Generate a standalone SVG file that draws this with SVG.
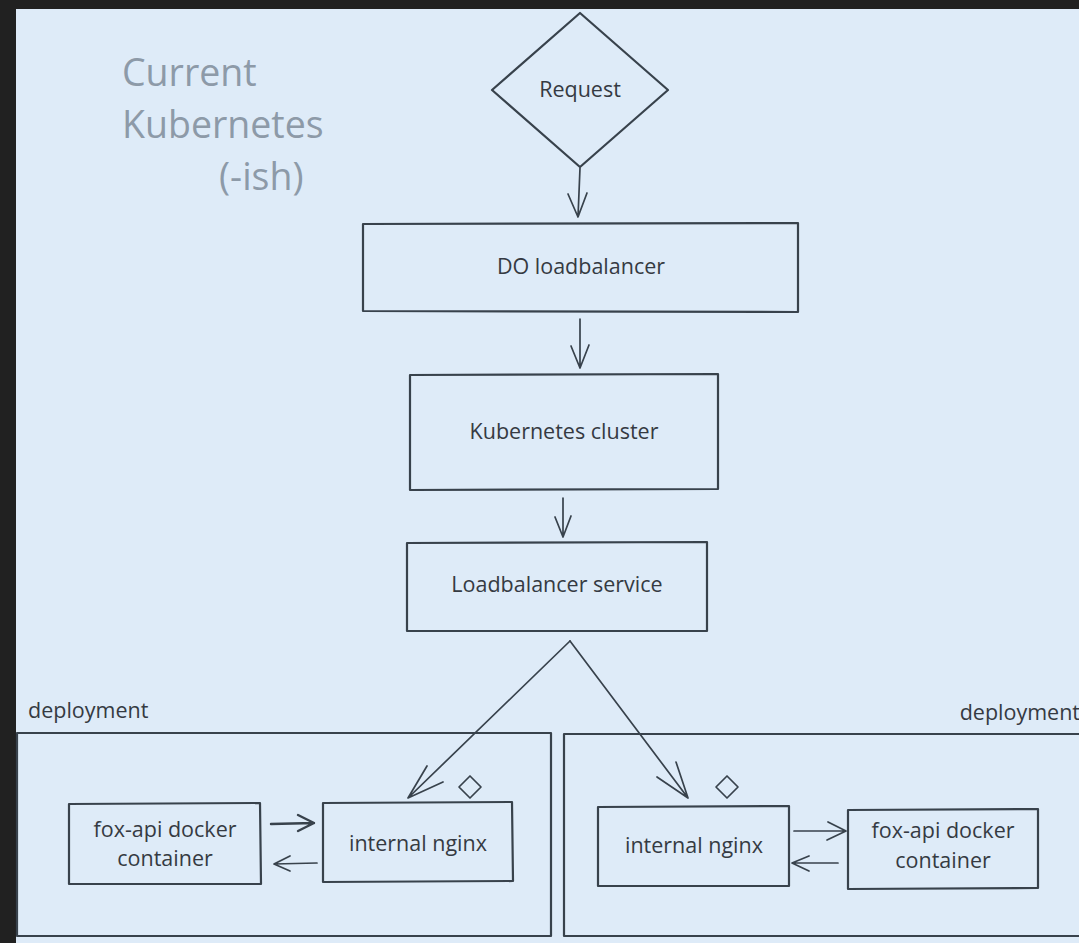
<svg xmlns="http://www.w3.org/2000/svg" width="1079" height="943" viewBox="0 0 1079 943">
  <style>
    .shape { fill: none; stroke: #38424c; stroke-width: 2.2; stroke-linecap: round; stroke-linejoin: round; }
    .conn { fill: none; stroke: #38424c; stroke-width: 1.7; stroke-linecap: round; stroke-linejoin: round; }
    .lbl { font-family: "Open Sans", "Noto Sans", "Liberation Sans", sans-serif; font-size: 21.5px; fill: #353a42; text-anchor: middle; }
    .title { font-family: "Open Sans", "Noto Sans", "Liberation Sans", sans-serif; font-size: 37.5px; fill: #8d9aa8; }
  </style>
  <rect x="0" y="0" width="1079" height="943" fill="#212121"/>
  <rect x="16" y="9" width="1063" height="934" fill="#deebf8"/>

  <g id="title">
    <text class="title" x="122" y="86">Current</text>
    <text class="title" x="122" y="138">Kubernetes</text>
    <text class="title" x="219" y="190">(-ish)</text>
  </g>

  <g id="request">
    <path class="shape" d="M580,13 L668,90 L580,167 L492,90 Z"/>
    <text class="lbl" x="580" y="97">Request</text>
  </g>

  <g id="do-loadbalancer">
    <path class="shape" d="M363,224 L798,223 L798,312 L363,311 Z"/>
    <text class="lbl" x="581" y="274">DO loadbalancer</text>
  </g>

  <g id="kubernetes-cluster">
    <path class="shape" d="M410,375 L718,374 L718,489 L410,490 Z"/>
    <text class="lbl" x="564" y="439">Kubernetes cluster</text>
  </g>

  <g id="loadbalancer-service">
    <path class="shape" d="M407,543 L707,542 L707,631 L407,631 Z"/>
    <text class="lbl" x="557" y="592">Loadbalancer service</text>
  </g>

  <g id="deployment-left">
    <path class="shape" d="M17,733 L551,733 L551,936 L17,936 Z"/>
    <text class="lbl" x="28" y="718" style="text-anchor:start">deployment</text>
  </g>

  <g id="deployment-right">
    <path class="shape" d="M1085,734 L564,734 L564,936 L1085,936"/>
    <text class="lbl" x="1080" y="720" style="text-anchor:end">deployment</text>
  </g>

  <g id="fox-api-left">
    <path class="shape" d="M69,804 L260,803 L261,884 L69,884 Z"/>
    <text class="lbl" x="165" y="837">fox-api docker</text>
    <text class="lbl" x="165" y="866">container</text>
  </g>

  <g id="nginx-left">
    <path class="shape" d="M323,803 L512,802 L513,881 L323,882 Z"/>
    <text class="lbl" x="418" y="851">internal nginx</text>
    <path class="conn" d="M470,776 L481,787 L470,798 L459,787 Z"/>
  </g>

  <g id="nginx-right">
    <path class="shape" d="M598,807 L789,806 L789,886 L598,886 Z"/>
    <text class="lbl" x="694" y="853">internal nginx</text>
    <path class="conn" d="M727,776 L738,787 L727,798 L716,787 Z"/>
  </g>

  <g id="fox-api-right">
    <path class="shape" d="M848,810 L1038,809 L1038,888 L848,889 Z"/>
    <text class="lbl" x="943" y="838">fox-api docker</text>
    <text class="lbl" x="943" y="868">container</text>
  </g>

  <g id="connectors">
    <path class="conn" d="M580,168 L578,217 M568,194 L578,217 L587,193"/>
    <path class="conn" d="M580,319 L580,368 M571,346 L580,368 L589,345"/>
    <path class="conn" d="M563,498 L563,537 M555,517 L563,537 L571,516"/>
    <path class="conn" d="M570,641 L408,798 M427,766 L408,798 L443,782"/>
    <path class="conn" d="M570,641 L688,798 M676,762 L688,798 L657,777"/>
    <path class="conn" d="M271,824 L314,823 M298,815 L314,823 L298,831" style="stroke-width:2.4"/>
    <path class="conn" d="M317,863 L274,864 M290,856 L274,864 L290,871"/>
    <path class="conn" d="M794,831 L846,831 M828,822 L846,831 L827,840"/>
    <path class="conn" d="M838,863 L792,863 M809,856 L792,863 L809,871"/>
  </g>
</svg>
